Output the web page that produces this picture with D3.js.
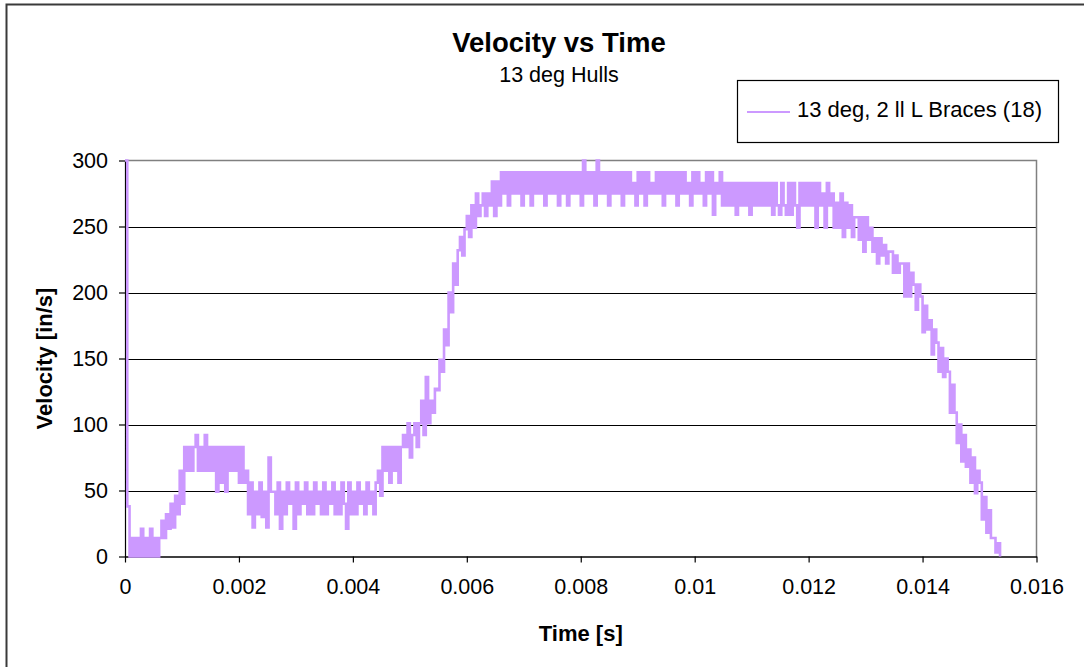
<!DOCTYPE html>
<html>
<head>
<meta charset="utf-8">
<script src="https://cdn.jsdelivr.net/npm/d3@7"></script>
<style>
  html, body { margin: 0; padding: 0; background: #fff; }
  svg { display: block; font-family: "Liberation Sans", Arial, sans-serif; }
</style>
</head>
<body>
<svg id="chart" width="1084" height="667"></svg>
<script>
// ---- data ----
const chartTitle = "Velocity vs Time";
const chartSubtitle = "13 deg Hulls";
const seriesName = "13 deg, 2 ll L Braces (18)";
const xAxisTitle = "Time [s]";
const yAxisTitle = "Velocity [in/s]";

const sampleInterval = 0.00004; // s between samples
const velocity = [
  300, 38,
  0, 14, 0, 14, 0, 21, 0, 14, 0, 21, 0, 14, 0,
  14, 27, 14, 32, 21, 40, 22, 46, 32, 65, 40,
  83, 65, 83, 65, 83, 92, 65, 83, 65, 92, 65, 83, 65, 83, 49, 83, 56, 83, 49, 83, 65, 83, 65, 83, 56, 83,
  56, 65, 32, 56, 22, 49, 32, 56, 30, 49, 22,
  75, 49,
  49, 32, 56, 21, 49, 32, 56, 40, 49, 21,
  56, 32, 49, 40, 56, 32, 49, 32, 56, 40,
  49, 32, 56, 32, 49, 40, 56, 32, 49, 32,
  56, 40, 21, 56, 32, 49, 32, 56, 40, 49,
  32, 56, 40, 49, 32,
  56, 65, 46, 83,
  65, 83, 56, 83, 65, 83, 56, 83, 92,
  83, 101, 75, 92, 101, 83,
  101, 118, 92, 136, 101, 118, 109, 127,
  126, 149, 140, 172, 160, 200, 185, 222, 206,
  232, 242, 228,
  248, 258, 242,
  266, 249, 275, 258,
  266, 275, 258, 275, 266,
  284, 258, 284, 266,
  291, 275, 291, 266, 291, 275, 291, 275, 291, 266, 291, 275, 291, 266, 291, 275, 291, 275, 291, 266,
  291, 275, 291, 275, 291, 266, 291, 275, 291, 266, 291, 275, 291, 275, 291, 266, 300, 275, 291, 275,
  291, 266, 300, 275, 291, 275, 291, 266, 291, 275, 291, 275, 291, 266, 291, 275, 291, 275, 283, 266,
  291, 275, 291, 266, 291, 275, 283, 275, 291, 275, 291, 266, 291, 275, 291, 275, 291, 266, 291, 275,
  291, 275, 283, 266, 291, 275, 291, 275, 283, 266, 291, 275, 291, 259, 283, 275,
  291, 266, 283, 266, 283, 266, 283, 259, 283, 266, 283, 266, 283, 259, 283, 266, 283, 266, 283, 266,
  283, 266, 283, 259, 283, 266, 259, 283, 266, 259, 283, 259, 283, 266, 249, 283, 266, 283, 266, 283,
  266, 283, 249, 283, 266, 275, 249, 283, 266,
  275, 249, 268, 249, 275, 242, 268, 249, 266, 242, 257,
  257, 240, 257, 231, 257, 240, 249, 231,
  241, 222, 241, 228, 236, 222, 231,
  231, 215, 228, 215, 222,
  222, 197, 222, 197, 215,
  206, 187, 206,
  197, 170, 190, 172,
  179, 153, 172,
  162, 140, 158, 136, 150,
  140, 109, 130,
  109, 86, 100, 72, 92, 68,
  81, 56, 75, 48, 65,
  56, 28, 45, 18, 35, 14,
  14, 3, 10, 0
];

const xTickValues = [0, 0.002, 0.004, 0.006, 0.008, 0.01, 0.012, 0.014, 0.016];
const xTickLabels = ["0", "0.002", "0.004", "0.006", "0.008", "0.01", "0.012", "0.014", "0.016"];
const yTickValues = [0, 50, 100, 150, 200, 250, 300];
const yTickLabels = ["0", "50", "100", "150", "200", "250", "300"];

// ---- layout ----
const svg = d3.select("#chart");
const plot = { left: 125, right: 1036.5, top: 160.5, bottom: 556.5 };
const lineColor = "#CC99FF";

const x = d3.scaleLinear().domain([0, 0.016]).range([plot.left, plot.right]);
const y = d3.scaleLinear().domain([0, 300]).range([plot.bottom, plot.top]);

// outer chart border
svg.append("rect")
  .attr("x", 6.5).attr("y", 4.5)
  .attr("width", 1200).attr("height", 800)
  .attr("fill", "none").attr("stroke", "#3a3a3a").attr("stroke-width", 2);

// gridlines
svg.append("g")
  .selectAll("line")
  .data(yTickValues.filter(v => v > 0 && v < 300))
  .join("line")
  .attr("x1", plot.left).attr("x2", plot.right)
  .attr("y1", d => Math.round(y(d)) + 0.5).attr("y2", d => Math.round(y(d)) + 0.5)
  .attr("stroke", "#000").attr("stroke-width", 1);

// plot area border (top & right gray)
svg.append("path")
  .attr("d", `M${plot.left},${plot.top}H${plot.right}V${plot.bottom}`)
  .attr("fill", "none").attr("stroke", "#808080").attr("stroke-width", 1.5);

// axes
const fontSize = 21.5;
const xAxis = d3.axisBottom(x)
  .tickValues(xTickValues)
  .tickFormat((d, i) => xTickLabels[i])
  .tickSizeInner(6).tickSizeOuter(0).tickPadding(16);
const gx = svg.append("g")
  .attr("transform", `translate(0,${plot.bottom})`)
  .call(xAxis);
gx.select(".domain").attr("stroke", "#000").attr("stroke-width", 1.5);
gx.selectAll(".tick line").attr("stroke", "#000").attr("stroke-width", 1.2);
gx.selectAll(".tick text").attr("font-size", fontSize).attr("fill", "#000")
  .attr("font-family", "Liberation Sans, Arial, sans-serif");

const yAxis = d3.axisLeft(y)
  .tickValues(yTickValues)
  .tickFormat((d, i) => yTickLabels[i])
  .tickSizeInner(6).tickSizeOuter(0).tickPadding(11);
const gy = svg.append("g")
  .attr("transform", `translate(${plot.left},0)`)
  .call(yAxis);
gy.select(".domain").attr("stroke", "#000").attr("stroke-width", 1.2);
gy.selectAll(".tick line").attr("stroke", "#000").attr("stroke-width", 1.2);
gy.selectAll(".tick text").attr("font-size", fontSize).attr("fill", "#000")
  .attr("font-family", "Liberation Sans, Arial, sans-serif");

// data line
const line = d3.line()
  .x((d, i) => x(i * sampleInterval))
  .y(d => y(d))
  .curve(d3.curveStepAfter);
svg.append("path")
  .datum(velocity)
  .attr("d", line)
  .attr("fill", "none")
  .attr("stroke", lineColor)
  .attr("stroke-width", 2.6);

// titles
svg.append("text")
  .attr("x", 559).attr("y", 51.5)
  .attr("text-anchor", "middle")
  .attr("font-size", 27.5).attr("font-weight", "bold")
  .text(chartTitle);
svg.append("text")
  .attr("x", 559).attr("y", 81.5)
  .attr("text-anchor", "middle")
  .attr("font-size", 21.5)
  .text(chartSubtitle);

svg.append("text")
  .attr("x", (plot.left + plot.right) / 2).attr("y", 641)
  .attr("text-anchor", "middle")
  .attr("font-size", 22).attr("font-weight", "bold")
  .text(xAxisTitle);
svg.append("text")
  .attr("transform", `translate(52,${(plot.top + plot.bottom) / 2}) rotate(-90)`)
  .attr("text-anchor", "middle")
  .attr("font-size", 22).attr("font-weight", "bold")
  .text(yAxisTitle);

// legend
const lg = svg.append("g");
lg.append("rect")
  .attr("x", 737.5).attr("y", 80.5).attr("width", 321).attr("height", 62)
  .attr("fill", "#fff").attr("stroke", "#000").attr("stroke-width", 1.2);
lg.append("line")
  .attr("x1", 747).attr("x2", 790).attr("y1", 112).attr("y2", 112)
  .attr("stroke", lineColor).attr("stroke-width", 2);
lg.append("text")
  .attr("x", 797).attr("y", 117)
  .attr("font-size", 22)
  .text(seriesName);
</script>
</body>
</html>
